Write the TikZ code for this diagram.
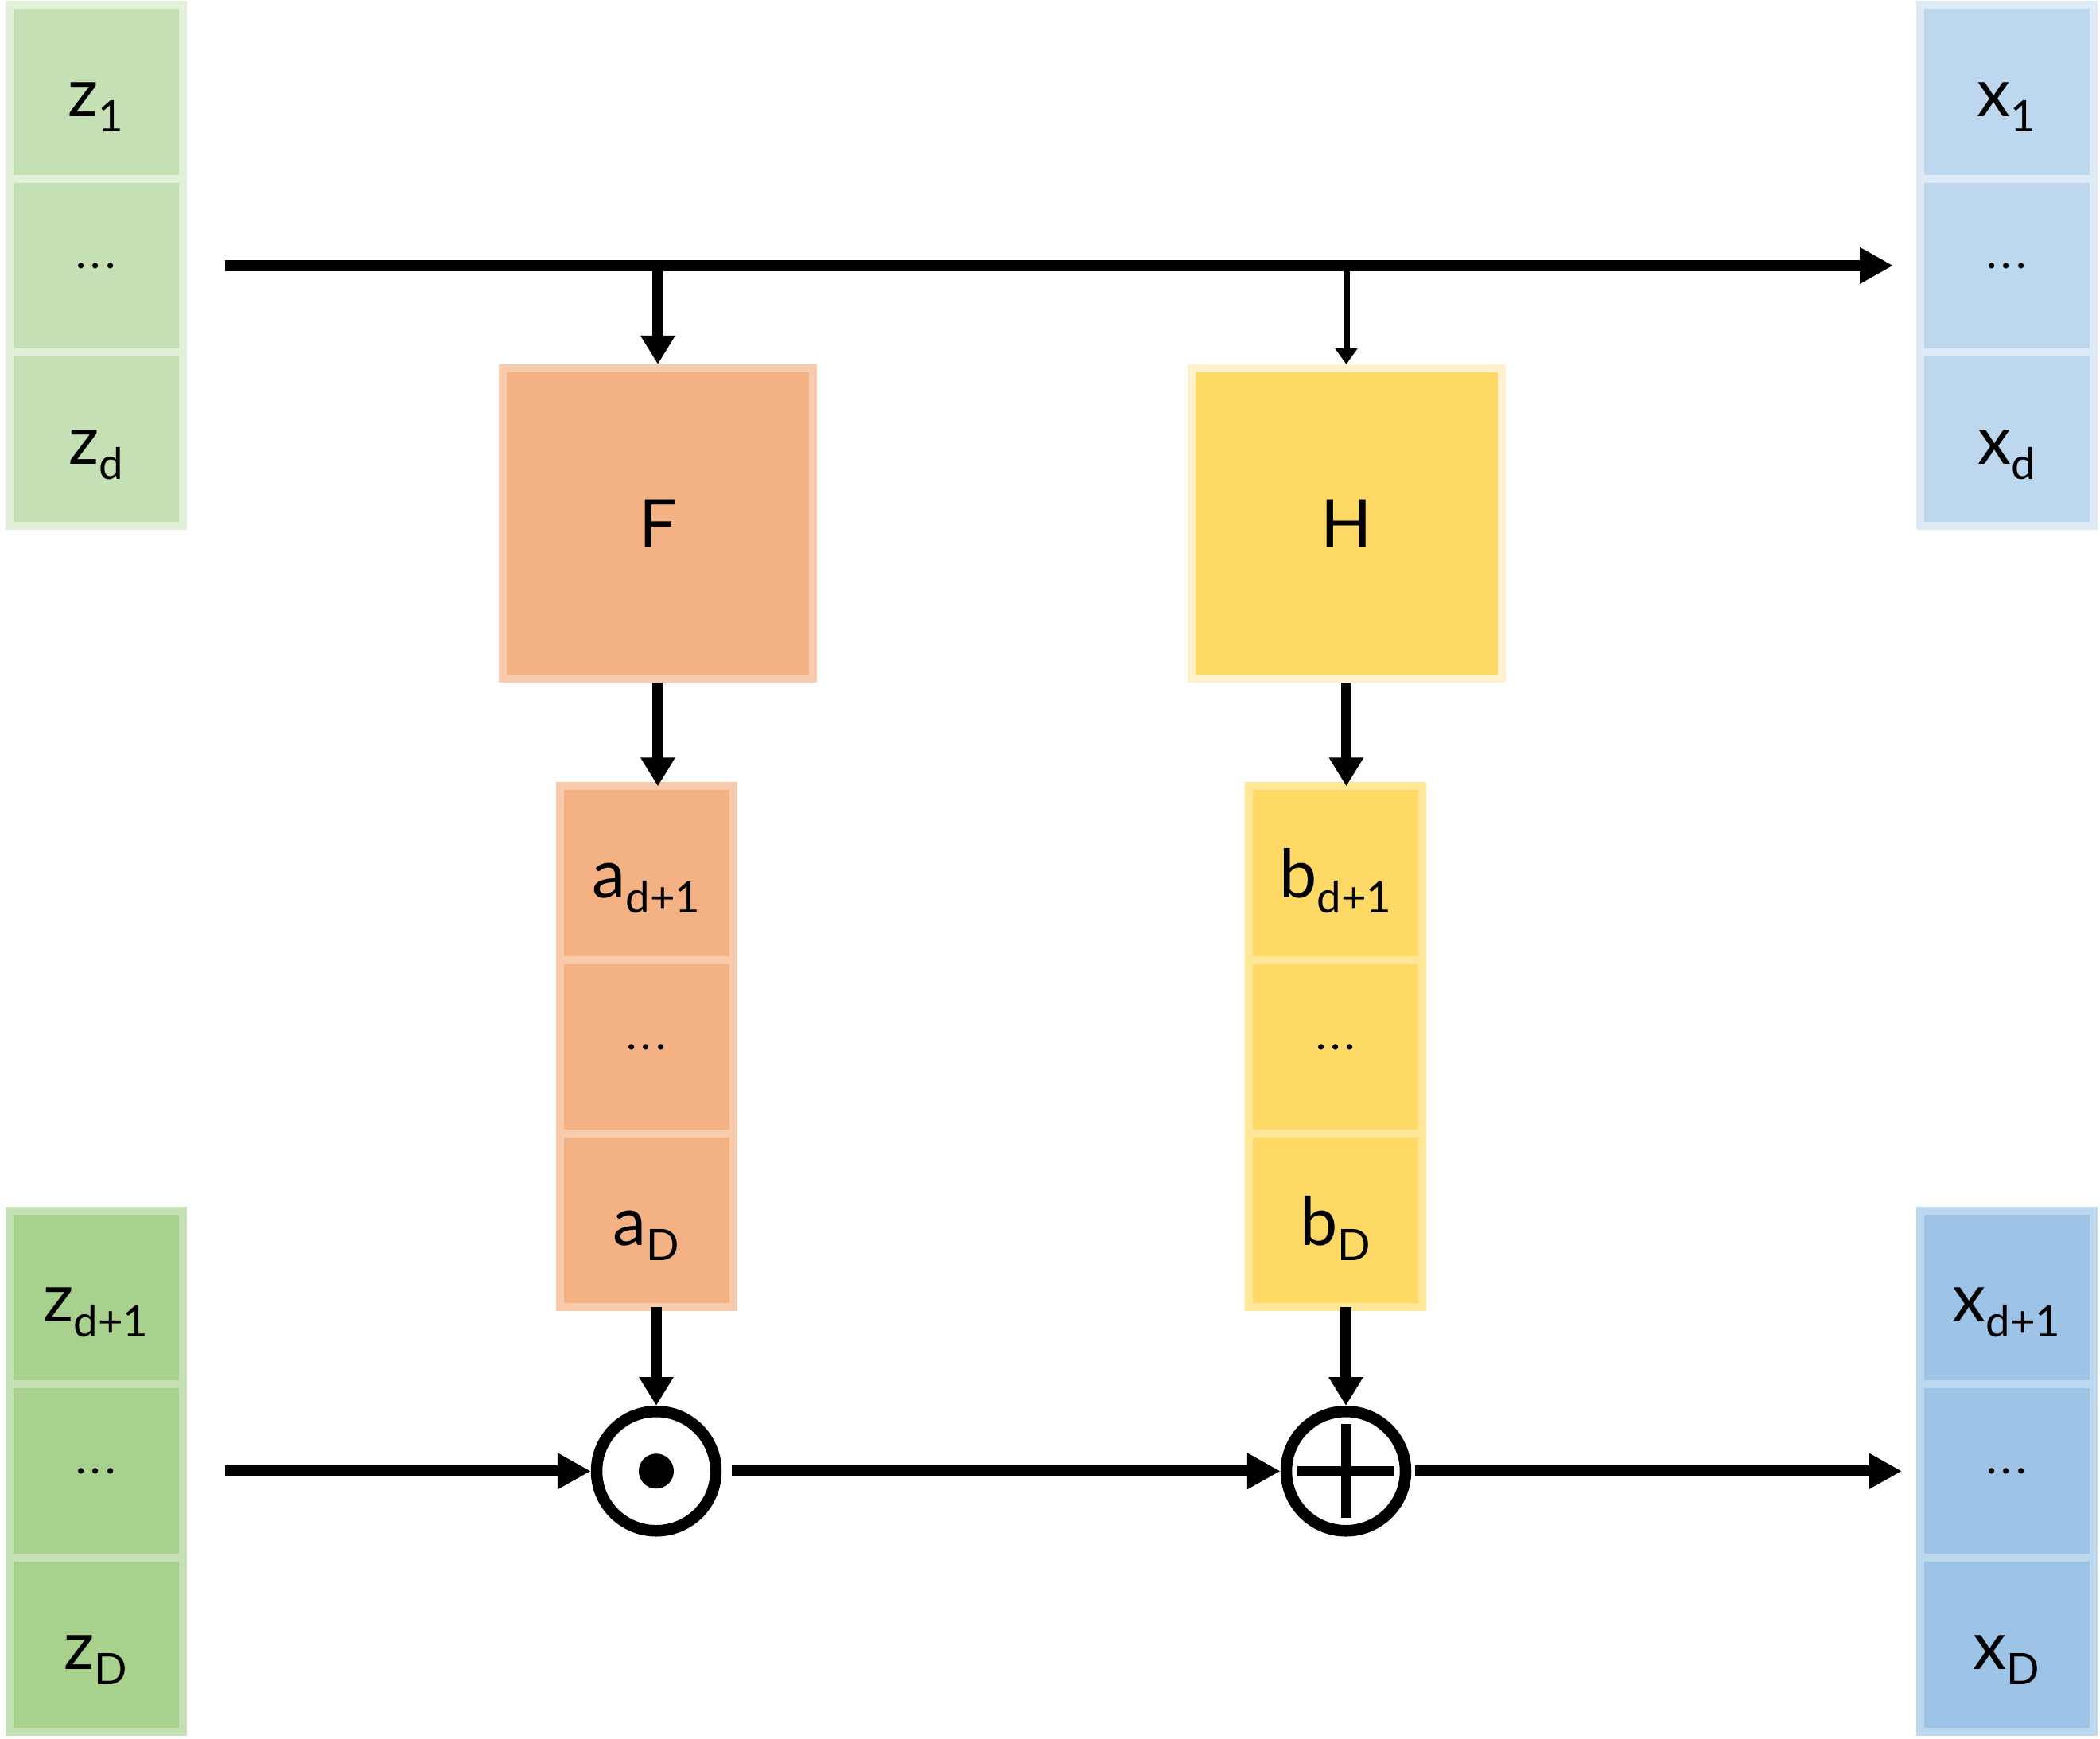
\documentclass[tikz,border=0pt]{standalone}
\usepackage{fontspec}
\setmainfont{Lato}
\usepackage{tikz}
\usetikzlibrary{arrows.meta, positioning}
\definecolor{zone}{HTML}{C5E0B4}
\definecolor{zoneedge}{HTML}{E2F0D9}
\definecolor{ztwo}{HTML}{A9D18E}
\definecolor{xone}{HTML}{BDD7EE}
\definecolor{xoneedge}{HTML}{DEEBF7}
\definecolor{xtwo}{HTML}{9DC3E6}
\definecolor{forange}{HTML}{F4B183}
\definecolor{forangeedge}{HTML}{F8CBAD}
\definecolor{hyellow}{HTML}{FFD966}
\definecolor{hyellowedge}{HTML}{FFF2CC}
\definecolor{byellowedge}{HTML}{FFE699}

\newcommand{\lab}[2]{#1\raisebox{-0.19cm}{\fontsize{15.5}{15.5}\selectfont #2}}
\newcommand{\mydots}{{\fontsize{16}{16}\selectfont .\kern0.05cm.\kern0.05cm.}}

\tikzset{
  cell/.style 2 args={fill=#1, draw=#2, line width=0.1cm, minimum width=2.18cm,
    minimum height=2.183cm, inner sep=0pt, outer sep=0pt,
    text height=0.72cm, text depth=0.1cm, font=\fontsize{24}{24}\selectfont},
  dotcell/.style={text height=0.07cm, text depth=0cm},
  net/.style 2 args={fill=#1, draw=#2, line width=0.1cm, minimum size=3.9cm,
    inner sep=0pt, text height=0.72cm, text depth=0.1cm, font=\fontsize{24}{24}\selectfont},
  op/.style={circle, draw, line width=0.145cm, minimum size=1.5cm, inner sep=0pt},
  arr/.style={line width=0.14cm, -{Triangle[length=0.42cm,width=0.43cm]}},
  varr/.style={line width=0.135cm, -{Triangle[length=0.36cm,width=0.41cm]}},
  thinarr/.style={line width=0.08cm, -{Triangle[length=0.2cm,width=0.27cm]}}
}

\begin{document}
\begin{tikzpicture}
  \useasboundingbox (0,0) rectangle (26.4,21.86);

  % inputs z
  \node[cell={zone}{zoneedge}] (z1) at (1.205,20.704) {\lab{z}{1}};
  \node[cell={zone}{zoneedge}, dotcell, below=0pt of z1] (zdotsA) {\mydots};
  \node[cell={zone}{zoneedge}, below=0pt of zdotsA] (zd) {\lab{z}{d}};
  \node[cell={ztwo}{zone}] (zd1) at (1.205,5.550) {\lab{z}{d+1}};
  \node[cell={ztwo}{zone}, dotcell, below=0pt of zd1] (zdotsB) {\mydots};
  \node[cell={ztwo}{zone}, below=0pt of zdotsB] (zD) {\lab{z}{D}};

  % outputs x
  \node[cell={xone}{xoneedge}] (x1) at (25.225,20.704) {\lab{x}{1}};
  \node[cell={xone}{xoneedge}, dotcell, below=0pt of x1] (xdotsA) {\mydots};
  \node[cell={xone}{xoneedge}, below=0pt of xdotsA] (xd) {\lab{x}{d}};
  \node[cell={xtwo}{xone}] (xd1) at (25.225,5.550) {\lab{x}{d+1}};
  \node[cell={xtwo}{xone}, dotcell, below=0pt of xd1] (xdotsB) {\mydots};
  \node[cell={xtwo}{xone}, below=0pt of xdotsB] (xD) {\lab{x}{D}};

  % networks F and H
  \node[net={forange}{forangeedge}] (F) at (8.27,15.28) {F};
  \node[net={hyellow}{hyellowedge}] (H) at (16.925,15.28) {H};

  % scale a and shift b
  \node[cell={forange}{forangeedge}] (a1) at (8.125,10.884) {\lab{a}{d+1}};
  \node[cell={forange}{forangeedge}, dotcell, below=0pt of a1] (adots) {\mydots};
  \node[cell={forange}{forangeedge}, below=0pt of adots] (aD) {\lab{a}{D}};
  \node[cell={hyellow}{byellowedge}] (b1) at (16.79,10.884) {\lab{b}{d+1}};
  \node[cell={hyellow}{byellowedge}, dotcell, below=0pt of b1] (bdots) {\mydots};
  \node[cell={hyellow}{byellowedge}, below=0pt of bdots] (bD) {\lab{b}{D}};

  % operators
  \node[op] (odot) at (8.25,3.367) {};
  \fill (odot.center) circle (0.22cm);
  \node[op] (oplus) at (16.92,3.367) {};
  \draw[line width=0.13cm] (oplus.center) ++(-0.61,0) -- ++(1.22,0);
  \draw[line width=0.13cm] (oplus.center) ++(0,-0.59) -- ++(0,1.18);

  % top path
  \draw[arr, shorten <=0.535cm, shorten >=0.335cm] (zdotsA.east) -- (xdotsA.west);
  \draw[varr] (F.north |- zdotsA.east) -- (F.north);
  \draw[thinarr] (H.north |- zdotsA.east) -- (H.north);
  \draw[varr] (F.south) -- (F.south |- a1.north);
  \draw[varr] (H.south) -- (H.south |- b1.north);
  \draw[varr] (aD.south -| odot.north) -- (odot.north);
  \draw[varr] (bD.south -| oplus.north) -- (oplus.north);

  % bottom path
  \draw[arr, shorten <=0.535cm] (zdotsB.east) -- (odot.west);
  \draw[arr, shorten <=0.13cm] (odot.east) -- (oplus.west);
  \draw[arr, shorten <=0.05cm, shorten >=0.225cm] (oplus.east) -- (xdotsB.west);
\end{tikzpicture}
\end{document}
